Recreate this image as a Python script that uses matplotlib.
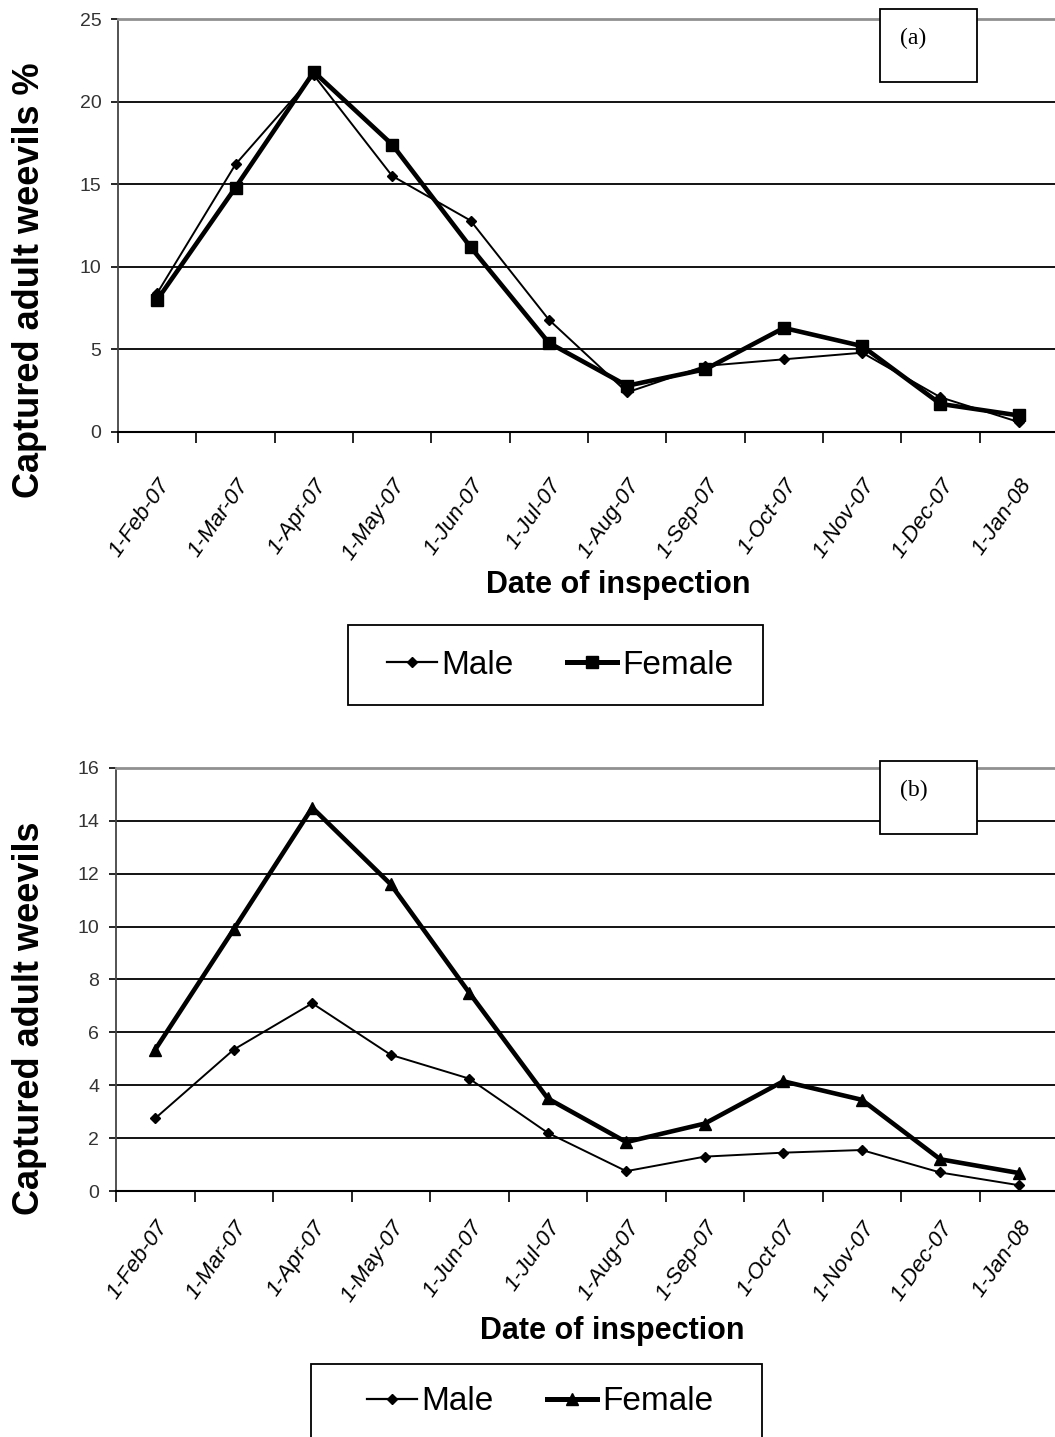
import matplotlib
matplotlib.use("Agg")
import matplotlib.pyplot as plt
import matplotlib.transforms as mtransforms
from matplotlib.patches import Rectangle
from matplotlib.lines import Line2D
import numpy as np

# inspection dates (category axis)
dates = ["1-Feb-07", "1-Mar-07", "1-Apr-07", "1-May-07", "1-Jun-07", "1-Jul-07",
         "1-Aug-07", "1-Sep-07", "1-Oct-07", "1-Nov-07", "1-Dec-07", "1-Jan-08"]

# (a) captured adult weevils, percent
male_pct = [8.4, 16.2, 21.6, 15.5, 12.8, 6.8, 2.4, 4.0, 4.4, 4.8, 2.1, 0.6]
female_pct = [8.0, 14.8, 21.8, 17.4, 11.2, 5.4, 2.8, 3.8, 6.3, 5.2, 1.7, 1.0]

# (b) captured adult weevils, counts
male_cnt = [2.75, 5.35, 7.1, 5.15, 4.25, 2.2, 0.75, 1.3, 1.45, 1.55, 0.7, 0.22]
female_cnt = [5.35, 9.9, 14.5, 11.6, 7.5, 3.5, 1.85, 2.55, 4.15, 3.45, 1.2, 0.68]

SANS = ["Liberation Sans", "DejaVu Sans"]
W, H = 1055, 1437


def fx(px):
    return px / W


def fy(py):
    return 1 - py / H


def style_axes(fig, ax, ymax, ystep, label_pad, label_dx):
    x = np.arange(len(dates))
    ax.set_xlim(-0.5, len(dates) - 0.5)
    ax.set_ylim(0, ymax)
    ax.set_yticks(np.arange(0, ymax + ystep / 2, ystep))
    ax.set_xticks(x)
    ax.set_xticklabels(dates, rotation=55, ha="right", va="top",
                       rotation_mode="anchor", fontstyle="italic",
                       family=SANS, fontsize=16)
    shift = mtransforms.ScaledTranslation(label_dx / 100, 0, fig.dpi_scale_trans)
    for lab in ax.get_xticklabels():
        lab.set_transform(lab.get_transform() + shift)
    ax.tick_params(axis="x", which="major", length=0, pad=label_pad)
    ax.set_xticks(np.arange(-0.5, len(dates)), minor=True)
    ax.tick_params(axis="x", which="minor", length=8, width=1.2, direction="out")
    ax.tick_params(axis="y", length=5, width=1.2, direction="out", pad=7)
    for lab in ax.get_yticklabels():
        lab.set_family(SANS)
        lab.set_fontsize(14)
        lab.set_color("#333333")
    ax.yaxis.grid(True, color="black", linewidth=1.3)
    ax.set_axisbelow(True)
    ax.spines["right"].set_visible(False)
    ax.spines["top"].set_color("#909090")
    ax.spines["top"].set_linewidth(2)
    ax.spines["left"].set_linewidth(1.3)
    ax.spines["left"].set_color("#444444")
    ax.spines["bottom"].set_linewidth(1.5)


fig = plt.figure(figsize=(W / 100, H / 100), dpi=100)
x = np.arange(len(dates))

# panel (a)
ax1 = fig.add_axes([fx(118), fy(432), fx(1058) - fx(118), fy(19) - fy(432)])
ax1.plot(x, male_pct, color="black", linewidth=1.4, marker="D", markersize=5)
ax1.plot(x, female_pct, color="black", linewidth=3.3, marker="s", markersize=9)
style_axes(fig, ax1, 25, 5, label_pad=31, label_dx=3)
fig.text(fx(30), fy(280), "Captured adult weevils %", rotation=90, ha="center",
         va="center", family=SANS, fontweight="bold", fontsize=26)
fig.text(fx(618), fy(585), "Date of inspection", ha="center", va="center",
         family=SANS, fontweight="bold", fontsize=22)

# panel (b)
ax2 = fig.add_axes([fx(116), fy(1191), fx(1058) - fx(116), fy(768) - fy(1191)])
ax2.plot(x, male_cnt, color="black", linewidth=1.4, marker="D", markersize=5)
ax2.plot(x, female_cnt, color="black", linewidth=3.3, marker="^", markersize=9)
style_axes(fig, ax2, 16, 2, label_pad=19, label_dx=0)
fig.text(fx(30), fy(1018), "Captured adult weevils", rotation=90, ha="center",
         va="center", family=SANS, fontweight="bold", fontsize=26)
fig.text(fx(612), fy(1331), "Date of inspection", ha="center", va="center",
         family=SANS, fontweight="bold", fontsize=22)

# panel tags
for (bx, by, tag) in [(880, 9, "(a)"), (880, 761, "(b)")]:
    fig.add_artist(Rectangle((fx(bx), fy(by + 73)), 97 / W, 73 / H,
                             transform=fig.transFigure, facecolor="white",
                             edgecolor="black", linewidth=1.3, zorder=5))
    fig.text(fx(bx + 20), fy(by + 29), tag, family=["Liberation Serif", "DejaVu Serif"],
             fontsize=17, ha="left", va="center", zorder=6)

# legends (frame drawn separately so it can be wider than the entries)
for fmark, box, center in [("s", (348, 625, 763, 705), (560, 665)),
                           ("^", (311, 1364, 762, 1500), (540, 1402))]:
    x0, y0, x1, y1 = box
    fig.add_artist(Rectangle((fx(x0), fy(y1)), (x1 - x0) / W, (y1 - y0) / H,
                             transform=fig.transFigure, facecolor="white",
                             edgecolor="black", linewidth=1.3, zorder=8))
    h = [Line2D([], [], color="black", linewidth=1.6, marker="D", markersize=5),
         Line2D([], [], color="black", linewidth=3.6, marker=fmark, markersize=8)]
    leg = fig.legend(h, ["Male", "Female"], loc="center",
                     bbox_to_anchor=(fx(center[0]), fy(center[1])),
                     ncol=2, frameon=False, prop={"family": SANS, "size": 24},
                     handlelength=1.5, handletextpad=0.15, columnspacing=1.6,
                     borderpad=0, borderaxespad=0)
    leg.set_zorder(10)

fig.savefig("out.png", dpi=100)
